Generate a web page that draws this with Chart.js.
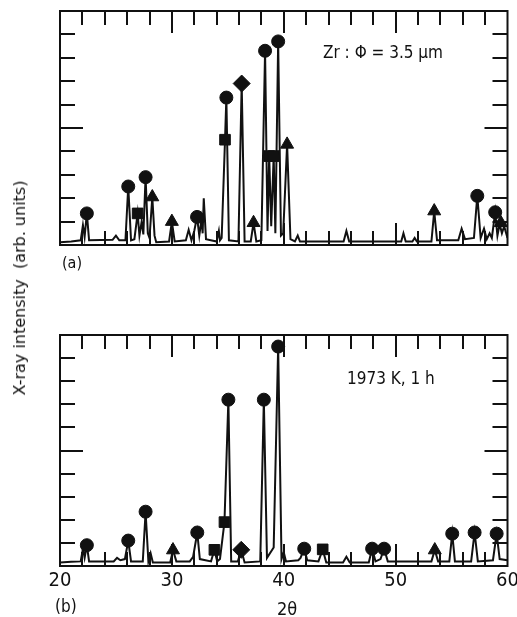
<!DOCTYPE html>
<html>
<head>
<meta charset="utf-8">
<script src="https://cdn.jsdelivr.net/npm/chart.js@4.4.0/dist/chart.umd.min.js"></script>
<style>
  body { margin: 0; background: #fff; width: 517px; height: 617px; position: relative; overflow: hidden; }
  canvas { position: absolute; left: 0; }
  .lbl { position: absolute; color: #111; font-family: "Liberation Sans Narrow", "DejaVu Sans Condensed", "DejaVu Sans", sans-serif; line-height: 1; white-space: nowrap; }
</style>
</head>
<body>
<canvas id="chartA" width="517" height="260" style="top:0"></canvas>
<canvas id="chartB" width="517" height="297" style="top:320px"></canvas>

<div class="lbl" style="left:323px; top:44px; font-size:17px;">Zr : Φ = 3.5 μm</div>
<div class="lbl" style="left:347px; top:370px; font-size:17px;">1973 K, 1 h</div>
<div class="lbl" style="left:62px; top:255px; font-size:16px;">(a)</div>
<div class="lbl" style="left:55px; top:598px; font-size:17px;">(b)</div>
<div class="lbl" style="left:287px; top:609px; font-size:18px; transform:translate(-50%,-50%);">2θ</div>
<div class="lbl" style="left:20px; top:288px; font-size:16px; font-family:'DejaVu Sans', sans-serif; transform:translate(-50%,-50%) rotate(-90deg);">X-ray intensity&nbsp; (arb. units)</div>

<script>
// 2θ (deg), intensity (arb. units, 0-10 full scale)
const scanA = [
  [20.0, 0.12], [21.0, 0.15], [21.85, 0.2], [22.05, 0.85], [22.2, 0.35], [22.4, 1.35], [22.6, 0.2],
  [24.7, 0.22], [25.0, 0.4], [25.3, 0.2],
  [25.85, 0.2], [26.1, 2.5], [26.35, 0.2],
  [26.65, 0.25], [26.94, 1.35], [27.1, 0.4], [27.3, 1.0], [27.45, 0.45], [27.65, 2.9], [27.85, 0.5],
  [28.0, 0.3], [28.25, 2.05], [28.45, 0.4], [28.6, 0.12],
  [29.75, 0.15], [30.0, 1.0], [30.25, 0.15],
  [31.25, 0.2], [31.5, 0.65], [31.75, 0.2], [32.0, 0.6], [32.25, 1.2], [32.45, 0.4], [32.65, 1.1],
  [32.75, 0.5], [32.85, 2.0], [33.05, 0.25],
  [34.0, 0.15], [34.2, 0.6], [34.3, 0.2], [34.45, 0.3], [34.75, 4.5], [34.87, 6.3], [35.1, 0.2],
  [35.95, 0.15], [36.24, 6.9], [36.5, 0.15],
  [37.05, 0.15], [37.3, 0.95], [37.55, 0.15],
  [38.0, 0.2], [38.33, 8.3], [38.55, 0.6], [38.7, 3.8], [38.88, 0.8], [39.1, 3.8], [39.25, 0.5],
  [39.5, 8.7], [39.75, 0.4], [39.95, 0.5], [40.3, 4.3], [40.6, 0.25],
  [41.0, 0.15], [41.25, 0.4], [41.45, 0.15],
  [45.35, 0.15], [45.6, 0.6], [45.85, 0.15],
  [50.5, 0.15], [50.7, 0.5], [50.9, 0.15],
  [51.5, 0.15], [51.7, 0.3], [51.9, 0.15],
  [53.2, 0.15], [53.45, 1.45], [53.7, 0.2],
  [55.6, 0.2], [55.9, 0.7], [56.2, 0.25],
  [57.0, 0.3], [57.3, 2.1], [57.6, 0.3], [57.9, 0.7], [58.15, 0.25], [58.4, 0.5], [58.6, 0.3],
  [58.9, 1.4], [59.1, 0.4], [59.3, 0.9], [59.5, 0.5], [59.7, 0.8], [60.0, 0.3]
];
const circlesA = [[22.4, 1.35], [26.1, 2.5], [27.65, 2.9], [32.25, 1.2], [34.87, 6.3], [38.33, 8.3], [39.5, 8.7], [57.3, 2.1], [58.9, 1.4]];
const squaresA = [[26.94, 1.35], [34.75, 4.5], [38.7, 3.8], [39.1, 3.8]];
const trianglesA = [[28.25, 2.05], [30.0, 1.0], [37.3, 0.95], [40.3, 4.3], [53.45, 1.45], [59.4, 0.95]];
const diamondsA = [[36.24, 6.9]];

const scanB = [
  [20.0, 0.15], [21.0, 0.18], [21.85, 0.2], [22.05, 0.75], [22.2, 0.35], [22.4, 0.9], [22.6, 0.2],
  [24.8, 0.2], [25.1, 0.35], [25.4, 0.25], [25.8, 0.3], [26.1, 1.1], [26.35, 0.2],
  [27.4, 0.2], [27.65, 2.35], [27.9, 0.2], [28.1, 0.55], [28.3, 0.15],
  [29.85, 0.15], [30.1, 0.69], [30.4, 0.2],
  [31.6, 0.2], [31.9, 0.4], [32.27, 1.45], [32.5, 0.3],
  [33.5, 0.2], [33.8, 0.7], [34.05, 0.2], [34.3, 0.3], [34.7, 1.9], [35.05, 7.2], [35.3, 0.2],
  [35.9, 0.2], [36.2, 0.7], [36.5, 0.15],
  [37.9, 0.2], [38.22, 7.2], [38.5, 0.35], [39.1, 0.8], [39.5, 9.5], [39.8, 0.3], [40.0, 0.6], [40.2, 0.2],
  [41.3, 0.25], [41.5, 0.35], [41.83, 0.75], [42.1, 0.25],
  [43.1, 0.2], [43.48, 0.72], [43.8, 0.15],
  [45.3, 0.15], [45.6, 0.4], [45.9, 0.15],
  [47.6, 0.15], [47.9, 0.75], [48.2, 0.2], [48.65, 0.3], [48.97, 0.75], [49.3, 0.2],
  [53.2, 0.2], [53.5, 0.69], [53.8, 0.2],
  [54.8, 0.2], [55.06, 1.4], [55.3, 0.2],
  [56.75, 0.2], [57.06, 1.45], [57.35, 0.2],
  [58.7, 0.25], [59.03, 1.4], [59.3, 0.3], [60.0, 0.25]
];
const circlesB = [[22.4, 0.9], [26.1, 1.1], [27.65, 2.35], [32.27, 1.45], [35.05, 7.2], [38.22, 7.2], [39.5, 9.5],
  [41.83, 0.75], [47.9, 0.75], [48.97, 0.75], [55.06, 1.4], [57.06, 1.45], [59.03, 1.4]];
const squaresB = [[33.8, 0.7], [34.7, 1.9], [43.48, 0.72]];
const trianglesB = [[30.1, 0.69], [53.5, 0.69]];
const diamondsB = [[36.2, 0.7]];

const xTicks = [20, 30, 40, 50, 60];
const INK = '#111';

const toXY = arr => arr.map(([x, y]) => ({ x, y }));

// box + inward tick marks on all four sides
const framePlugin = {
  id: 'frame',
  afterDraw(chart) {
    const { ctx, chartArea: a, scales: { x, y } } = chart;
    ctx.save();
    ctx.strokeStyle = INK;
    ctx.lineWidth = 2;
    ctx.strokeRect(a.left, a.top, a.right - a.left, a.bottom - a.top);
    ctx.beginPath();
    for (let v = 22; v < 60; v += 2) {
      const px = Math.round(x.getPixelForValue(v));
      const len = v % 10 === 0 ? 22 : 14;
      ctx.moveTo(px, a.top); ctx.lineTo(px, a.top + len);
      ctx.moveTo(px, a.bottom); ctx.lineTo(px, a.bottom - len);
    }
    for (let v = 1; v < 10; v++) {
      const py = Math.round(y.getPixelForValue(v));
      const len = v === 5 ? 23 : 15;
      ctx.moveTo(a.left, py); ctx.lineTo(a.left + len, py);
      ctx.moveTo(a.right, py); ctx.lineTo(a.right - len, py);
    }
    ctx.stroke();
    ctx.restore();
  }
};

function markerSet(data, style, radius) {
  return {
    type: 'scatter',
    data: toXY(data),
    pointStyle: style,
    pointRadius: radius,
    backgroundColor: INK,
    borderColor: INK,
    borderWidth: 1,
    order: 0
  };
}

function makeChart(id, scan, circles, squares, triangles, diamonds, withAxis, padding) {
  return new Chart(document.getElementById(id), {
    type: 'line',
    data: {
      datasets: [
        {
          data: toXY(scan),
          borderColor: INK,
          borderWidth: 2,
          pointRadius: 0,
          tension: 0,
          fill: false,
          order: 1
        },
        markerSet(circles, 'circle', 6.5),
        markerSet(squares, 'rect', 7.5),
        markerSet(triangles, 'triangle', 7.5),
        markerSet(diamonds, 'rectRot', 8.5)
      ]
    },
    options: {
      responsive: false,
      animation: false,
      devicePixelRatio: 1,
      layout: { padding },
      plugins: { legend: { display: false }, tooltip: { enabled: false } },
      scales: {
        x: {
          type: 'linear',
          min: 20,
          max: 60,
          display: withAxis,
          afterBuildTicks: s => { s.ticks = xTicks.map(v => ({ value: v })); },
          afterFit: s => {
            if (!withAxis) return;
            s.height = 28; s.paddingLeft = 0; s.paddingRight = 0;
          },
          grid: { display: false, drawTicks: false },
          border: { display: false },
          ticks: {
            padding: 3,
            color: INK,
            font: { family: '"Liberation Sans Narrow", "DejaVu Sans Condensed", "DejaVu Sans"', size: 20 }
          }
        },
        y: { min: 0, max: 10, display: false }
      }
    },
    plugins: [framePlugin]
  });
}

makeChart('chartA', scanA, circlesA, squaresA, trianglesA, diamondsA, false,
  { left: 60, right: 4, top: 11, bottom: 15 });
makeChart('chartB', scanB, circlesB, squaresB, trianglesB, diamondsB, true,
  { left: 60, right: 4, top: 15, bottom: 23 });
</script>
</body>
</html>
